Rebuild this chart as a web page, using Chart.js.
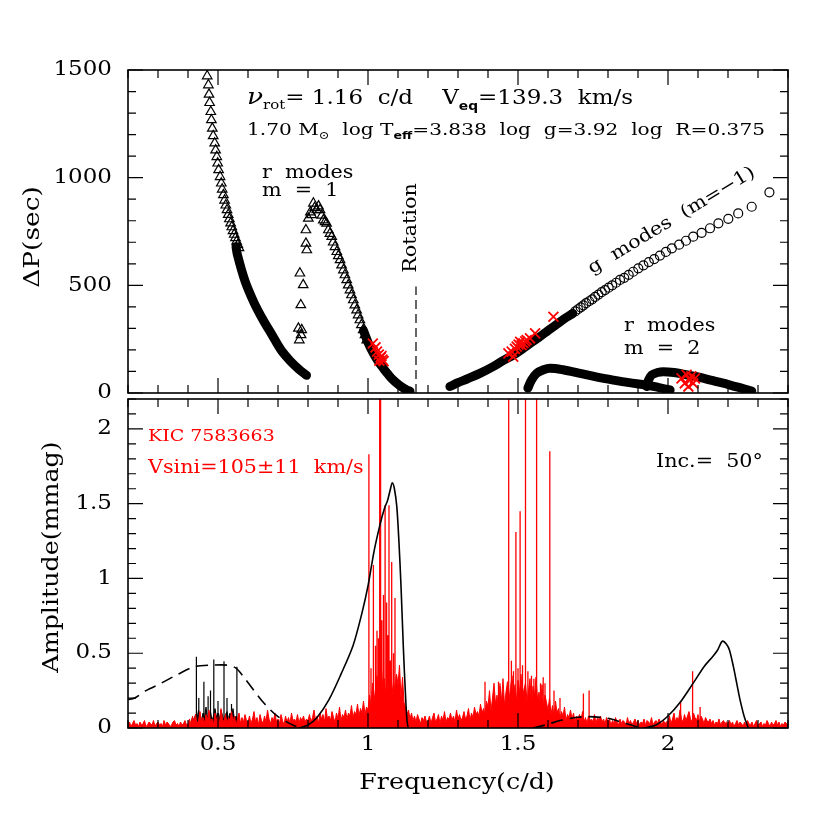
<!DOCTYPE html>
<html>
<head>
<meta charset="utf-8">
<script src="https://cdn.jsdelivr.net/npm/chart.js@4.4.0/dist/chart.umd.min.js"></script>
<style>
  body { margin: 0; background: #fff; }
  #wrap { position: relative; width: 830px; height: 830px; }
  canvas { position: absolute; left: 0; }
  #topChart { top: 0; }
  #botChart { top: 390px; }
</style>
</head>
<body>
<div id="wrap">
  <canvas id="topChart" width="830" height="410"></canvas>
  <canvas id="botChart" width="830" height="440"></canvas>
</div>
<script>
/* =========================
   DATA - top panel (period spacing, sec)
========================= */

// r modes m=1, left branch: separate triangles, then the dense part
const rLeftTriFreq = [0.464, 0.468, 0.470, 0.472, 0.476, 0.478, 0.481, 0.484, 0.489, 0.492, 0.496, 0.499, 0.502, 0.507, 0.511, 0.514, 0.518, 0.522, 0.526, 0.530, 0.534, 0.538, 0.542, 0.546, 0.550, 0.554, 0.558, 0.562, 0.566, 0.570];
const rLeftTriDP   = [1472, 1430, 1387, 1348, 1306, 1268, 1229, 1194, 1160, 1128, 1097, 1067, 1036, 1004, 974, 946, 920, 895, 872, 850, 828, 808, 789, 771, 753, 736, 720, 704, 689, 674];
const rLeftBandFreq = [0.560, 0.565, 0.590, 0.620, 0.650, 0.680, 0.710, 0.740, 0.770, 0.795];
const rLeftBandDP   = [680, 640, 520, 420, 340, 270, 200, 150, 110, 82];

// r modes m=1, second branch
const rPeakTriFreq = [0.771, 0.768, 0.777, 0.779, 0.776, 0.773, 0.784, 0.793, 0.796, 0.793, 0.801, 0.808, 0.812, 0.818, 0.822, 0.829, 0.835, 0.840, 0.846, 0.851, 0.857, 0.862, 0.868, 0.873, 0.879, 0.884, 0.890, 0.896, 0.901, 0.907, 0.912, 0.918, 0.923, 0.929, 0.934, 0.940, 0.945, 0.951, 0.956, 0.962, 0.967, 0.973, 0.978, 0.984, 0.990, 0.996];
const rPeakTriDP   = [246, 300, 270, 293, 409, 556, 502, 695, 664, 757, 811, 840, 827, 881, 860, 850, 868, 850, 825, 803, 795, 788, 757, 740, 726, 700, 679, 656, 637, 618, 594, 571, 548, 525, 501, 478, 455, 432, 408, 385, 362, 339, 316, 293, 270, 246];
const rPeakBandFreq = [0.985, 1.000, 1.018, 1.035, 1.051, 1.068, 1.084, 1.105, 1.129, 1.140];
const rPeakBandDP   = [290, 235, 184, 145, 115, 85, 60, 35, 14, 8];

// g modes (m=-1): dense part and the open circles
const gBandFreq = [1.273, 1.300, 1.330, 1.373, 1.420, 1.450, 1.484, 1.520, 1.550, 1.573, 1.600, 1.630, 1.660, 1.683];
const gBandDP   = [30, 48, 65, 91, 125, 150, 176, 210, 240, 262, 290, 320, 350, 370];
const gCircFreq = [1.691, 1.700, 1.709, 1.718, 1.727, 1.737, 1.747, 1.757, 1.768, 1.779, 1.790, 1.802, 1.814, 1.827, 1.840, 1.854, 1.869, 1.884, 1.901, 1.918, 1.936, 1.954, 1.973, 1.993, 2.013, 2.037, 2.060, 2.084, 2.112, 2.140, 2.168, 2.201, 2.234, 2.279, 2.338];
const gCircDP   = [379, 389, 398, 407, 417, 426, 435, 446, 457, 468, 478, 489, 500, 512, 525, 535, 549, 563, 579, 593, 608, 622, 638, 655, 672, 689, 707, 726, 744, 765, 788, 809, 834, 865, 932];

// r modes m=2: two ridges
const r2aFreq = [1.533, 1.545, 1.562, 1.585, 1.607, 1.650, 1.707, 1.760, 1.818, 1.870, 1.929, 1.970, 2.007];
const r2aDP   = [23, 60, 91, 108, 115, 108, 91, 75, 60, 48, 37, 25, 14];
const r2bFreq = [1.929, 1.935, 1.946, 1.965, 1.984, 2.020, 2.060, 2.096, 2.150, 2.207, 2.250, 2.279];
const r2bDP   = [30, 60, 84, 95, 99, 95, 85, 76, 57, 37, 20, 9];

// observed spacings (red crosses)
const obsFreq = [1.016, 1.025, 1.030, 1.036, 1.042, 1.048, 1.052, 1.045, 1.038,
                 1.468, 1.479, 1.484, 1.490, 1.496, 1.502, 1.507, 1.512, 1.518, 1.524, 1.529, 1.540, 1.557, 1.618,
                 2.045, 2.056, 2.062, 2.068, 2.073, 2.078, 2.084, 2.090];
const obsDP   = [230, 212, 192, 178, 165, 155, 148, 172, 150,
                 184, 192, 169, 205, 215, 225, 238, 222, 231, 240, 246, 254, 277, 354,
                 68, 45, 84, 30, 60, 77, 45, 68];

const rotFreq = [1.16, 1.16];
const rotDP   = [0, 495];

/* =========================
   DATA - bottom panel (amplitude, mmag)
========================= */

// red KIC 7583663 spectrum, sampled from 0.20 c/d every 0.005 c/d, in 0.01 mmag
const noiseStart = 0.2;
const noiseStep = 0.005;
const noiseAmp = [
  2,4,1,3,5,2,3,1,4,2, 3,5,1,2,4,3,2,5,1,3, 4,2,3,1,5,2,4,3,1,2, 4,5,2,3,1,4,2,3,5,2,
  3,6,2,8,4,9,3,5,11,4, 7,3,9,5,12,4,6,2,10,5, 8,3,13,6,4,9,3,7,5,11, 4,8,2,6,10,3,7,4,9,5,
  4,8,3,6,11,4,7,2,9,5, 3,8,4,12,6,3,7,5,10,4, 6,3,9,5,2,8,4,7,3,10, 5,6,4,9,3,7,5,8,4,6,
  5,9,4,7,12,5,8,3,10,6, 9,4,13,6,8,5,11,7,4,10, 6,14,5,9,7,12,6,10,8,15, 7,11,9,16,8,13,10,18,9,14,
  12,22,15,30,18,26,35,20,28,40, 24,33,19,38,27,45,22,31,25,36, 29,42,20,34,17,14,9,12,6,10, 5,8,4,9,6,3,7,5,8,4,
  5,8,3,7,10,4,6,9,3,8, 5,11,4,7,6,10,5,8,4,12, 6,9,5,7,11,6,8,13,5,10, 7,14,9,11,8,16,10,13,9,18,
  14,25,11,20,30,16,22,12,28,18, 33,15,24,31,19,27,35,21,29,17, 32,23,36,20,26,30,18,25,33,16, 28,21,34,19,24,15,29,13,22,17,
  12,20,9,15,7,18,10,13,6,11, 8,14,5,9,7,12,6,10,4,8, 6,9,5,11,4,7,3,8,5,6, 4,9,3,7,5,8,4,6,3,7,
  4,6,2,5,3,7,4,2,6,3, 5,4,2,7,3,5,2,4,6,3, 5,2,4,3,6,2,5,4,3,7, 2,4,5,3,6,4,2,5,3,4,
  5,8,3,6,10,4,7,5,12,6, 4,9,5,8,11,6,4,10,7,5, 9,4,8,6,3,7,5,4,6,3, 5,2,4,3,6,2,4,5,3,4,
  3,5,2,4,1,3,5,2,4,3, 1,4,2,5,3,2,4,1,3,5, 2,3,4,1,3,2,5,3,1,4, 2,3,5,2,4,1,3,2,4,3,
  2
];

// red peaks
const redPeakFreq = [1.003, 1.010, 1.018, 1.025, 1.030, 1.035, 1.039, 1.042, 1.046, 1.051, 1.052, 1.057, 1.062, 1.066, 1.070, 1.074, 1.079, 1.085, 1.090, 1.095,
                     1.390, 1.435, 1.440, 1.469, 1.478, 1.485, 1.493, 1.500, 1.507, 1.515, 1.525, 1.533, 1.545, 1.553, 1.562, 1.575, 1.584, 1.590, 1.606, 1.620, 1.640,
                     1.718, 1.737, 2.042, 2.082, 2.107];
const redPeakAmp  = [1.83, 0.40, 1.09, 0.55, 0.65, 0.60, 2.50, 2.50, 0.72, 0.89, 0.50, 1.49, 0.84, 0.62, 1.49, 0.45, 1.11, 0.50, 0.87, 0.35,
                     0.31, 0.31, 0.30, 2.50, 0.45, 0.38, 1.31, 0.40, 1.45, 0.42, 2.50, 0.38, 0.35, 0.33, 2.50, 0.30, 0.34, 0.30, 1.85, 0.25, 0.20,
                     0.23, 0.25, 0.18, 0.38, 0.14];

// black spectrum (0.41 - 0.575 c/d, every 0.005), in 0.01 mmag, and its peaks
const blackSpecStart = 0.41;
const blackSpecAmp = [4,7,5,9,6,12,8,5,10,7, 14,6,9,11,5,8,13,7,10,6, 12,8,5,9,11,6,10,7,13,5, 8,6,4,3];
const blackPeakFreq = [0.428, 0.436, 0.453, 0.467, 0.475, 0.486, 0.500, 0.520, 0.530, 0.545, 0.563];
const blackPeakAmp  = [0.476, 0.20, 0.31, 0.213, 0.25, 0.458, 0.18, 0.447, 0.20, 0.16, 0.409];

// model curves
const modelFreq1 = [0.77, 0.80, 0.83, 0.87, 0.91, 0.95, 0.98, 1.00, 1.02, 1.04, 1.055, 1.065, 1.075, 1.081, 1.088, 1.096, 1.103, 1.110, 1.118, 1.125, 1.130, 1.134];
const modelAmp1  = [0.0, 0.02, 0.07, 0.19, 0.36, 0.55, 0.77, 0.95, 1.18, 1.36, 1.47, 1.52, 1.60, 1.64, 1.60, 1.48, 1.25, 0.95, 0.53, 0.22, 0.05, 0.0];
const modelFreq2 = [1.92, 1.96, 2.00, 2.04, 2.084, 2.12, 2.15, 2.165, 2.181, 2.195, 2.205, 2.218, 2.23, 2.24, 2.255, 2.268];
const modelAmp2  = [0.0, 0.02, 0.08, 0.17, 0.30, 0.41, 0.48, 0.52, 0.58, 0.56, 0.52, 0.41, 0.29, 0.19, 0.07, 0.0];
const dashFreq1 = [0.20, 0.222, 0.26, 0.311, 0.367, 0.422, 0.478, 0.533, 0.56, 0.59, 0.62, 0.656, 0.70, 0.756, 0.78];
const dashAmp1  = [0.19, 0.20, 0.25, 0.30, 0.36, 0.41, 0.42, 0.42, 0.40, 0.33, 0.25, 0.16, 0.076, 0.013, 0.0];
const dashFreq2 = [1.55, 1.60, 1.64, 1.70, 1.73, 1.78, 1.81, 1.85, 1.89, 1.92];
const dashAmp2  = [0.0, 0.025, 0.05, 0.072, 0.076, 0.07, 0.06, 0.035, 0.012, 0.0];

// axes
const xMin = 0.2, xMax = 2.4;
const xTickValues = [0.5, 1, 1.5, 2];
const xTickLabels = ["0.5", "1", "1.5", "2"];
const topTickValues = [0, 500, 1000, 1500];
const topTickLabels = ["0", "500", "1000", "1500"];
const botTickValues = [0, 0.5, 1, 1.5, 2];
const botTickLabels = ["0", "0.5", "1", "1.5", "2"];

/* =========================
   HELPERS
========================= */

const SERIF = '"DejaVu Serif", serif';
const SX = 1.15;

function pts(xs, ys) {
    return xs.map((x, i) => ({ x: x, y: ys[i] }));
}

function spikes(fs, hs) {
    const out = [];
    fs.forEach((f, i) => {
        out.push({ x: f, y: 0 }, { x: f, y: hs[i] }, { x: f, y: 0 });
    });
    return out;
}

function rich(ctx, runs, x, y, color) {
    ctx.save();
    ctx.fillStyle = color || "#000";
    ctx.textBaseline = "alphabetic";
    let cx = x;
    for (const [s, font, dy] of runs) {
        ctx.font = font;
        ctx.save();
        ctx.translate(cx, y + (dy || 0));
        ctx.scale(SX, 1);
        ctx.fillText(s, 0, 0);
        ctx.restore();
        cx += ctx.measureText(s).width * SX;
    }
    ctx.restore();
}

function label(ctx, s, x, y, size, opt = {}) {
    ctx.save();
    ctx.font = size + "px " + SERIF;
    ctx.fillStyle = opt.color || "#000";
    ctx.textAlign = opt.align || "left";
    ctx.textBaseline = opt.base || "alphabetic";
    ctx.translate(x, y);
    if (opt.rot) ctx.rotate(opt.rot);
    ctx.scale(SX, 1);
    ctx.fillText(s, 0, 0);
    ctx.restore();
}

function framePlugin(yStep, yMajorEvery) {
    return {
        id: "frame",
        afterDatasetsDraw(chart) {
            const { ctx, chartArea: a, scales: { x, y } } = chart;
            ctx.save();
            ctx.strokeStyle = "#000";
            ctx.lineWidth = 1.2;
            ctx.beginPath();
            const nx = Math.round((xMax - xMin) / 0.1);
            for (let i = 0; i <= nx; i++) {
                const v = xMin + i * 0.1;
                const px = x.getPixelForValue(v);
                const len = Math.abs(v * 2 - Math.round(v * 2)) < 1e-6 ? 15 : 8;
                ctx.moveTo(px, a.bottom); ctx.lineTo(px, a.bottom - len);
                ctx.moveTo(px, a.top); ctx.lineTo(px, a.top + len);
            }
            const ny = Math.round((y.max - y.min) / yStep);
            for (let i = 0; i <= ny; i++) {
                const py = y.getPixelForValue(y.min + i * yStep);
                const len = i % yMajorEvery === 0 ? 15 : 8;
                ctx.moveTo(a.left, py); ctx.lineTo(a.left + len, py);
                ctx.moveTo(a.right, py); ctx.lineTo(a.right - len, py);
            }
            ctx.stroke();
            ctx.lineWidth = 1.6;
            ctx.strokeRect(a.left, a.top, a.right - a.left, a.bottom - a.top);
            ctx.restore();
        }
    };
}

const commonOptions = (ymax, padding) => ({
    responsive: false,
    animation: false,
    devicePixelRatio: 1,
    layout: { padding: padding },
    plugins: { legend: { display: false }, tooltip: { enabled: false } },
    scales: {
        x: { type: "linear", min: xMin, max: xMax, display: false },
        y: { type: "linear", min: 0, max: ymax, display: false }
    }
});

/* =========================
   TOP CHART
========================= */

const band = (data, order) => ({
    data: data, showLine: true, pointRadius: 0, borderColor: "#000",
    borderWidth: 9, tension: 0.35, borderCapStyle: "round", borderJoinStyle: "round", order: order
});

const marks = (data, style, r) => ({
    data: data, pointStyle: style, pointRadius: r, pointBorderWidth: 1.2,
    borderColor: "#000", backgroundColor: "rgba(0,0,0,0)", order: 2
});

const topText = {
    id: "topText",
    afterDraw(chart) {
        const { ctx, chartArea: a, scales: { y } } = chart;
        topTickValues.forEach((v, i) => {
            label(ctx, topTickLabels[i], a.left - 16, y.getPixelForValue(v), 20, { align: "right", base: "middle" });
        });
        label(ctx, "ΔP(sec)", 33, 237, 23, { rot: -Math.PI / 2, align: "center", base: "middle" });

        rich(ctx, [
            ["ν", "italic 23px " + SERIF, 0],
            ["rot", "13px " + SERIF, 5],
            ["= 1.16  c/d    V", "20px " + SERIF, 0],
            ["eq", "bold 12px 'DejaVu Sans'", 6],
            ["=139.3  km/s", "20px " + SERIF, 0]
        ], 247, 104);
        rich(ctx, [
            ["1.70 M", "17.5px " + SERIF, 0],
            ["⊙", "11px " + SERIF, 4],
            ["  log T", "17.5px " + SERIF, 0],
            ["eff", "bold 11px 'DejaVu Sans'", 4],
            ["=3.838  log  g=3.92  log  R=0.375", "17.5px " + SERIF, 0]
        ], 247, 135);

        label(ctx, "r  modes", 262, 178, 18);
        label(ctx, "m  =  1", 262, 196, 18);
        label(ctx, "Rotation", 411, 228, 18, { rot: -Math.PI / 2, align: "center", base: "middle" });
        label(ctx, "g  modes  (m=−1)", 592, 274, 18, { rot: -31 * Math.PI / 180 });
        label(ctx, "r  modes", 624, 331, 18);
        label(ctx, "m  =  2", 624, 354, 18);
    }
};

new Chart(document.getElementById("topChart"), {
    type: "scatter",
    data: {
        datasets: [
            { data: pts(obsFreq, obsDP), pointStyle: "crossRot", pointRadius: 7, borderColor: "#ff0000", pointBorderWidth: 1.8, order: 0 },
            marks(pts(rLeftTriFreq, rLeftTriDP), "triangle", 5.5),
            band(pts(rLeftBandFreq, rLeftBandDP), 3),
            marks(pts(rPeakTriFreq, rPeakTriDP), "triangle", 5.5),
            band(pts(rPeakBandFreq, rPeakBandDP), 3),
            band(pts(gBandFreq, gBandDP), 3),
            marks(pts(gCircFreq, gCircDP), "circle", 4.5),
            band(pts(r2aFreq, r2aDP), 3),
            band(pts(r2bFreq, r2bDP), 3),
            { data: pts(rotFreq, rotDP), showLine: true, pointRadius: 0, borderColor: "#000", borderWidth: 1.2, borderDash: [9, 5], order: 4 }
        ]
    },
    options: commonOptions(1500, { left: 128, right: 42, top: 70, bottom: 17 }),
    plugins: [framePlugin(100, 5), topText]
});

/* =========================
   BOTTOM CHART
========================= */

const noisePts = noiseAmp.map((v, i) => ({ x: noiseStart + i * noiseStep, y: v / 100 }));
const blackSpecPts = blackSpecAmp.map((v, i) => ({ x: blackSpecStart + i * noiseStep, y: v / 100 }));

// page y -> canvas y (bottom canvas sits 390px down)
const by = (v) => v - 390;

const botText = {
    id: "botText",
    afterDraw(chart) {
        const { ctx, chartArea: a, scales: { x, y } } = chart;
        botTickValues.forEach((v, i) => {
            label(ctx, botTickLabels[i], a.left - 16, y.getPixelForValue(v), 20, { align: "right", base: "middle" });
        });
        xTickValues.forEach((v, i) => {
            label(ctx, xTickLabels[i], x.getPixelForValue(v), a.bottom + 17, 20, { align: "center", base: "middle" });
        });
        label(ctx, "Frequency(c/d)", 457, a.bottom + 55, 22, { align: "center", base: "middle" });
        label(ctx, "Amplitude(mmag)", 52, by(557), 22, { rot: -Math.PI / 2, align: "center", base: "middle" });
        label(ctx, "KIC 7583663", 148, by(441), 16.5, { color: "#ff0000" });
        label(ctx, "Vsini=105±11  km/s", 148, by(473), 18, { color: "#ff0000" });
        label(ctx, "Inc.=  50°", 656, by(467), 18);
    }
};

new Chart(document.getElementById("botChart"), {
    type: "scatter",
    data: {
        datasets: [
            { data: pts(modelFreq1, modelAmp1), showLine: true, pointRadius: 0, borderColor: "#000", borderWidth: 1.6, tension: 0.3, order: 0 },
            { data: pts(modelFreq2, modelAmp2), showLine: true, pointRadius: 0, borderColor: "#000", borderWidth: 1.6, tension: 0.3, order: 0 },
            { data: pts(dashFreq1, dashAmp1), showLine: true, pointRadius: 0, borderColor: "#000", borderWidth: 1.6, borderDash: [12, 7], tension: 0.3, order: 0 },
            { data: pts(dashFreq2, dashAmp2), showLine: true, pointRadius: 0, borderColor: "#000", borderWidth: 1.6, borderDash: [12, 7], tension: 0.3, order: 0 },
            { data: spikes(redPeakFreq, redPeakAmp), showLine: true, pointRadius: 0, borderColor: "#ff0000", borderWidth: 1.3, order: 1 },
            { data: noisePts, showLine: true, pointRadius: 0, borderColor: "#ff0000", backgroundColor: "#ff0000", borderWidth: 1, fill: "origin", order: 2 },
            { data: spikes(blackPeakFreq, blackPeakAmp), showLine: true, pointRadius: 0, borderColor: "#000", borderWidth: 1.2, order: 3 },
            { data: blackSpecPts, showLine: true, pointRadius: 0, borderColor: "#000", backgroundColor: "#000", borderWidth: 1, fill: "origin", order: 3 }
        ]
    },
    options: commonOptions(2.2, { left: 128, right: 42, top: 9, bottom: 102 }),
    plugins: [framePlugin(0.1, 5), botText]
});
</script>
</body>
</html>
